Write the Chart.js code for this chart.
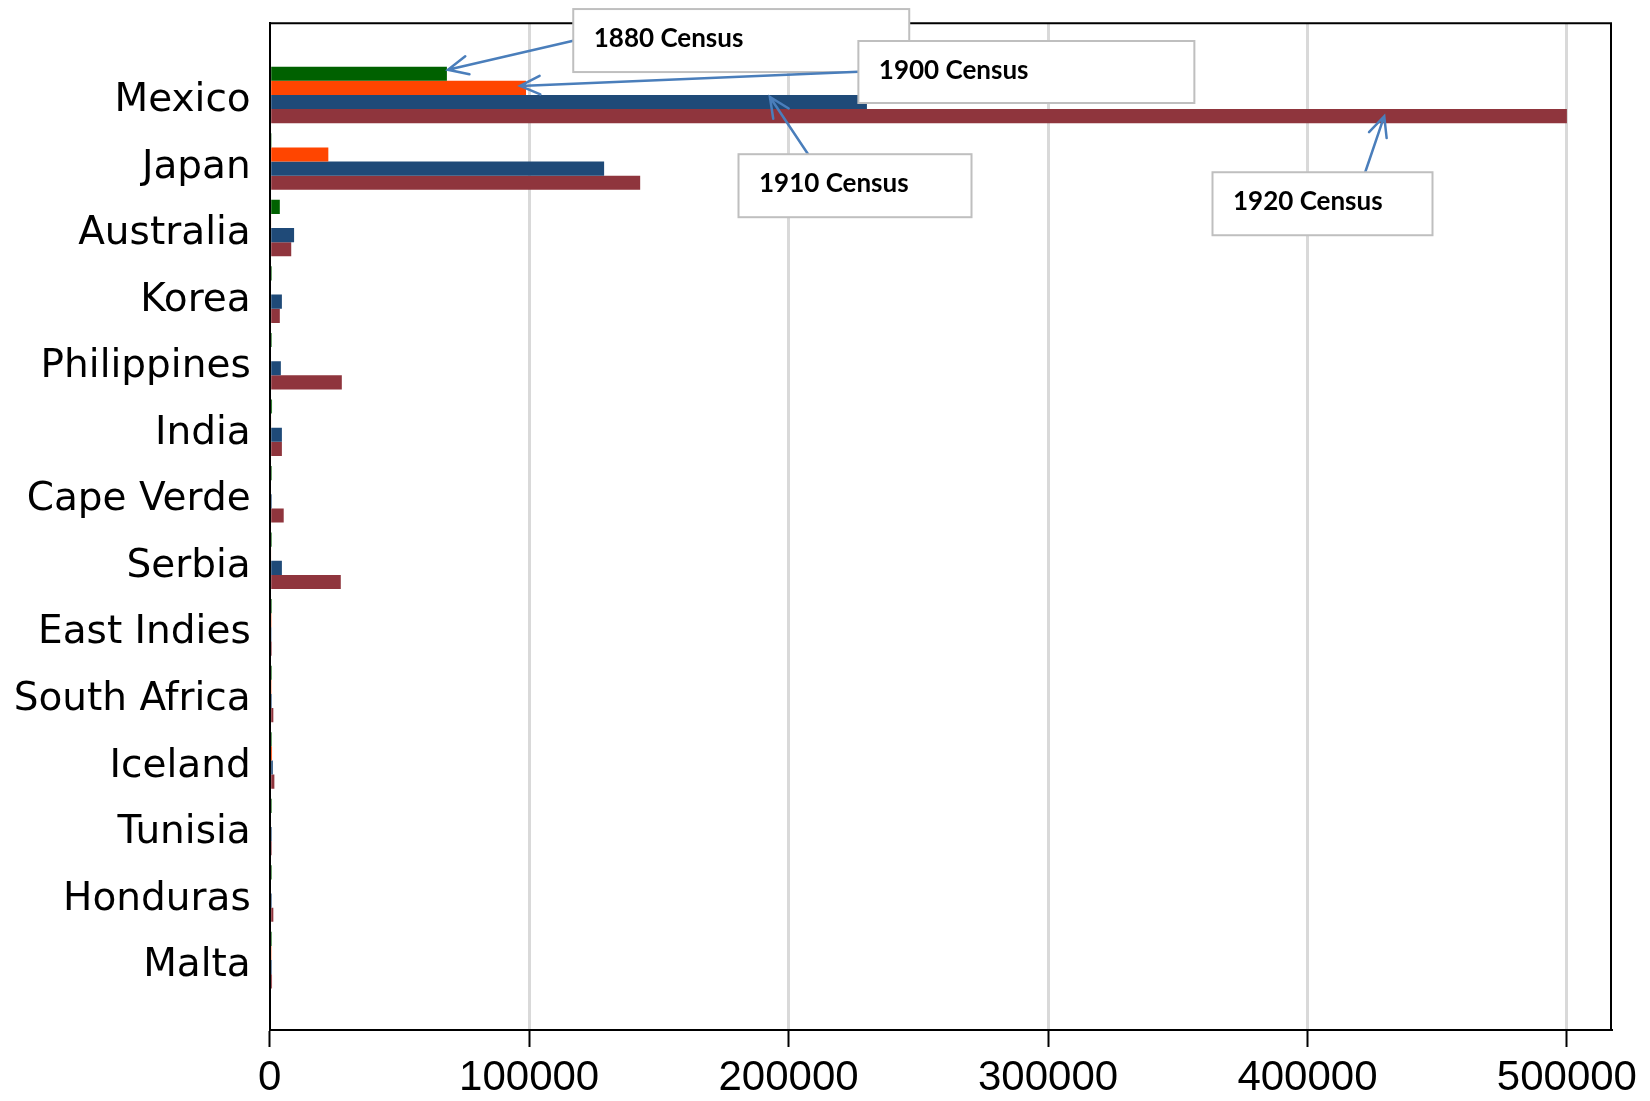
<!DOCTYPE html>
<html>
<head>
<meta charset="utf-8">
<script src="https://cdn.jsdelivr.net/npm/chart.js@4.4.1/dist/chart.umd.min.js"></script>
<style>
html,body{margin:0;padding:0;background:#ffffff;}
#wrap{width:1650px;height:1101px;position:relative;}
</style>
</head>
<body>
<div id="wrap"><canvas id="c" width="1650" height="1101"></canvas></div>
<script>
// ---- data ----
const categories = ["Mexico","Japan","Australia","Korea","Philippines","India","Cape Verde","Serbia","East Indies","South Africa","Iceland","Tunisia","Honduras","Malta"];
const seriesNames = ["1880 Census","1900 Census","1910 Census","1920 Census"];
const census1880 = [68300, 700, 3900, 800, 800, 900, 800, 800, 800, 800, 800, 800, 800, 800];
const census1900 = [98800, 22600, 600, 0, 0, 600, 0, 600, 700, 700, 900, 0, 0, 700];
const census1910 = [230200, 128900, 9400, 4700, 4300, 4700, 800, 4700, 700, 800, 1200, 800, 800, 800];
const census1920 = [500000, 142800, 8300, 3900, 27800, 4700, 5400, 27400, 800, 1400, 1800, 800, 1400, 900];
const xTicks = [0, 100000, 200000, 300000, 400000, 500000];

// ---- styles ----
const colors = ["#006100", "#ff4500", "#1f4a78", "#8f353d"];
const X_FONT = "'Liberation Sans', Arial, sans-serif";
const Y_FONT = "'DejaVu Sans', 'Liberation Sans', sans-serif";
const NOTE_FONT = "bold 26px Lato, 'Open Sans', sans-serif";

// annotation callouts: box anchored in axis units, arrow tip on a Mexico bar
const notes = [
  {series:0, tipValue:68700,  tipDy:-4, boxX:117000, boxY:-1.291, w:336, h:63, from:'left', off:31.7},
  {series:1, tipValue:96500,  tipDy:-2, boxX:226900, boxY:-0.811, w:336, h:62, from:'left', off:30.7},
  {series:2, tipValue:192800, tipDy:-5, boxX:180700, boxY:0.890,  w:233, h:63, from:'top',  off:69.6},
  {series:3, tipValue:429600, tipDy:0,  boxX:363400, boxY:1.161,  w:220, h:63, from:'top',  off:152.7}
];

const allSeries = [census1880, census1900, census1910, census1920];
const toPoints = arr => arr.map((v, i) => ({x: v, y: i}));

function drawArrow(ctx, x0, y0, x1, y1) {
  const ang = Math.atan2(y0 - y1, x0 - x1);
  const len = 22, spread = 25 * Math.PI / 180;
  ctx.beginPath();
  ctx.moveTo(x0, y0); ctx.lineTo(x1, y1);
  ctx.moveTo(x1 + len * Math.cos(ang + spread), y1 + len * Math.sin(ang + spread));
  ctx.lineTo(x1, y1);
  ctx.lineTo(x1 + len * Math.cos(ang - spread), y1 + len * Math.sin(ang - spread));
  ctx.stroke();
}

const framePlugin = {
  id: 'frame',
  afterDatasetsDraw(chart) {
    const {ctx, chartArea: a} = chart;
    ctx.save();
    ctx.strokeStyle = '#000'; ctx.lineWidth = 2;
    ctx.beginPath();
    ctx.moveTo(a.left, a.top); ctx.lineTo(a.right, a.top); ctx.lineTo(a.right, a.bottom);
    ctx.stroke();
    ctx.restore();
  }
};

const notesPlugin = {
  id: 'notes',
  afterDraw(chart) {
    const {ctx} = chart;
    const xs = chart.scales.x, ys = chart.scales.y;
    ctx.save();
    notes.forEach(n => {
      const bar = chart.getDatasetMeta(n.series).data[0];
      const tx = xs.getPixelForValue(n.tipValue);
      const ty = bar.y + n.tipDy;
      const bx = xs.getPixelForValue(n.boxX);
      const by = ys.getPixelForValue(n.boxY);
      let sx, sy;
      if (n.from === 'left') { sx = bx; sy = by + n.off; } else { sx = bx + n.off; sy = by; }
      ctx.strokeStyle = '#4a7ebb'; ctx.lineWidth = 2.5; ctx.lineCap = 'round';
      drawArrow(ctx, sx, sy, tx, ty);
      ctx.fillStyle = '#ffffff';
      ctx.fillRect(bx, by, n.w, n.h);
      ctx.strokeStyle = '#bfbfbf'; ctx.lineWidth = 2; ctx.lineCap = 'butt';
      ctx.strokeRect(bx, by, n.w, n.h);
      ctx.fillStyle = '#000000';
      ctx.font = NOTE_FONT;
      ctx.textBaseline = 'alphabetic'; ctx.textAlign = 'left';
      ctx.fillText(seriesNames[n.series], bx + 20.5, by + 38);
    });
    ctx.restore();
  }
};

new Chart(document.getElementById('c'), {
  type: 'bar',
  data: {
    datasets: allSeries.map((s, i) => ({
      label: seriesNames[i],
      data: toPoints(s),
      backgroundColor: colors[i],
      borderWidth: 0,
      barPercentage: 1.0,
      categoryPercentage: 0.85
    }))
  },
  options: {
    indexAxis: 'y',
    responsive: false,
    devicePixelRatio: 1,
    animation: false,
    layout: {padding: {top: 23.3, right: 39, bottom: 0, left: 0}},
    plugins: {legend: {display: false}, tooltip: {enabled: false}},
    scales: {
      x: {
        type: 'linear',
        position: 'bottom',
        min: 0, max: 517000,
        afterBuildTicks: scale => { scale.ticks = xTicks.map(v => ({value: v})); },
        afterFit: scale => { scale.height = 71; scale.paddingLeft = 0; scale.paddingRight = 0; },
        ticks: {
          color: '#000', padding: 6, maxRotation: 0, autoSkip: false,
          font: {family: X_FONT, size: 42},
          callback: v => String(v)
        },
        grid: {
          color: ctx => (ctx.tick && ctx.tick.value === 0) ? 'rgba(0,0,0,0)' : '#d9d9d9',
          lineWidth: 3,
          tickLength: 17, tickColor: '#000', tickWidth: 2, drawTicks: true
        },
        border: {display: true, color: '#000', width: 2}
      },
      y: {
        type: 'linear',
        position: 'left',
        reverse: true,
        offset: false,
        min: -1.077, max: 14.05,
        afterBuildTicks: scale => { scale.ticks = categories.map((c, i) => ({value: i})); },
        afterFit: scale => { scale.width = 269.7; scale.paddingTop = 0; scale.paddingBottom = 0; },
        ticks: {
          color: '#000', padding: 19, autoSkip: false, labelOffset: 6,
          font: {family: Y_FONT, size: 39},
          callback: v => categories[v] !== undefined ? categories[v] : ''
        },
        grid: {display: false, offset: false, drawTicks: false},
        border: {display: true, color: '#000', width: 2}
      }
    }
  },
  plugins: [framePlugin, notesPlugin]
});
</script>
</body>
</html>
